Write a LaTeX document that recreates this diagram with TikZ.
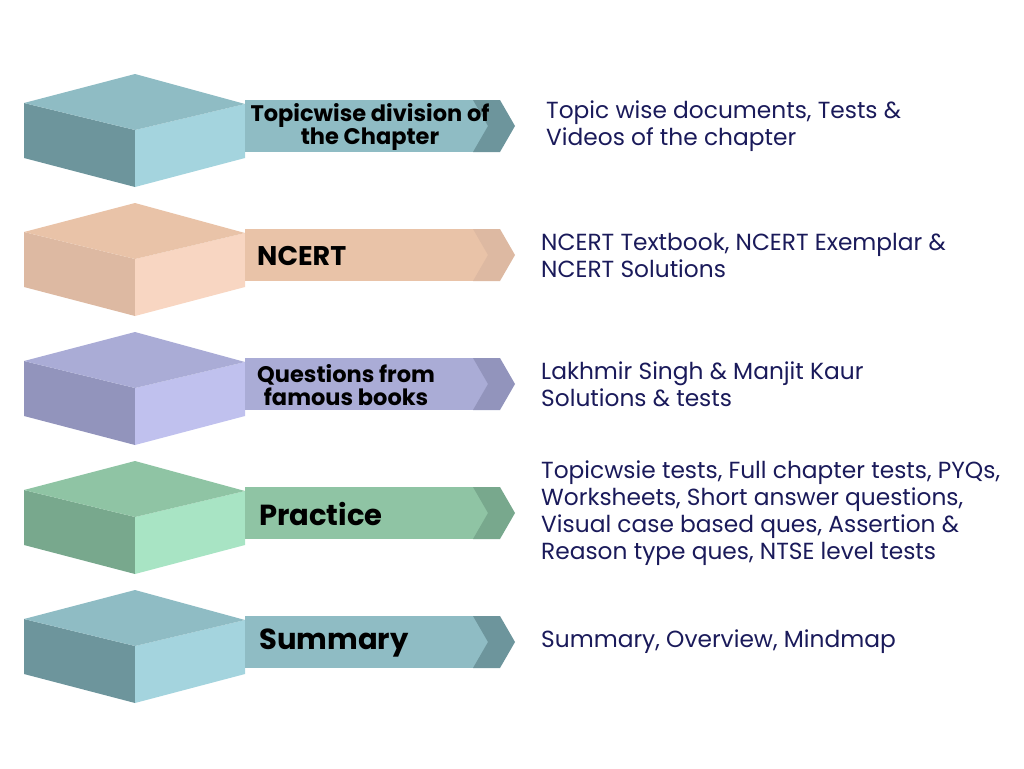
\documentclass[tikz,border=0pt]{standalone}
\usepackage{fontspec}
\setmainfont{Poppins}
\usetikzlibrary{positioning}
\definecolor{tealtop}{HTML}{8FBCC4}\definecolor{tealleft}{HTML}{6D959C}\definecolor{tealright}{HTML}{A4D4DE}
\definecolor{peachtop}{HTML}{E9C3A8}\definecolor{peachleft}{HTML}{DDB9A2}\definecolor{peachright}{HTML}{F8D6C2}
\definecolor{lavtop}{HTML}{AAACD6}\definecolor{lavleft}{HTML}{9294BC}\definecolor{lavright}{HTML}{C0C1EE}
\definecolor{greentop}{HTML}{8FC4A4}\definecolor{greenleft}{HTML}{78A88D}\definecolor{greenright}{HTML}{A8E4C4}
\definecolor{desctext}{HTML}{1A1A5A}
\tikzset{
  label/.style={font=\bfseries, text=black, align=center, inner sep=0pt},
  desc/.style={anchor=west, align=left, text=desctext, font=\fontsize{23.3}{27}\selectfont, inner sep=0pt}
}
% one layer: y offset, colour name, label, label size, label x, text x, text
\newcommand{\layer}[8]{%
  \begin{scope}[yshift=-#1pt]
    \fill[#2left] (24,103) -- (135,130) -- (135,187) -- (24,158) -- cycle;
    \fill[#2right] (135,130) -- (245,104) -- (245,158) -- (135,187) -- cycle;
    \fill[#2top] (24,103) -- (135,74) -- (245,104) -- (135,130) -- cycle;
    \fill[#2top] (245,100) rectangle (500,152);
    \fill[#2left] (473,100) -- (500,100) -- (515,126) -- (500,152) -- (473,152) -- (488,126) -- cycle;
    \node[label, font=\fontsize{#4}{23}\selectfont\bfseries, anchor=#8] (lab#2) at (#5,127) {#3};
    \node[desc] (desc#2) at (#6,126) {#7};
  \end{scope}}
\begin{document}
\begin{tikzpicture}[x=1pt,y=-1pt]
  \useasboundingbox (0,0) rectangle (1024,768);
  \layer{0}{teal}{Topicwise division of\\the Chapter}{22.5}{370}{546}{Topic wise documents, Tests \&\\Videos of the chapter}{center}
  \layer{129}{peach}{NCERT}{27}{257}{541}{NCERT Textbook, NCERT Exemplar \&\\NCERT Solutions}{west}
  \layer{258}{lav}{Questions from\\famous books}{22.5}{257}{541}{Lakhmir Singh \& Manjit Kaur\\Solutions \& tests}{west}
  \layer{387}{green}{Practice}{29}{259}{541}{Topicwsie tests, Full chapter tests, PYQs,\\Worksheets, Short answer questions,\\Visual case based ques, Assertion \&\\Reason type ques, NTSE level tests}{west}
  \layer{516}{teal}{Summary}{29}{259}{541}{Summary, Overview, Mindmap}{west}
\end{tikzpicture}
\end{document}
